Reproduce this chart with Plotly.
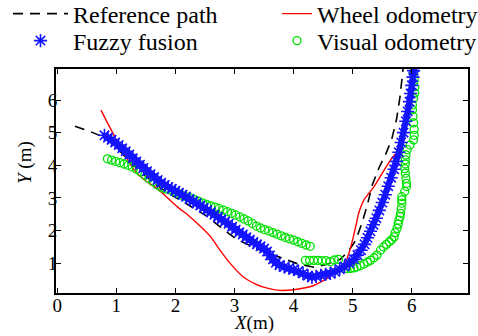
import plotly.graph_objects as go

# ---- data ----
ref_x = [0.30, 0.55, 0.85, 1.10, 1.35, 1.64, 1.90, 2.10, 2.35, 2.55, 2.78, 3.04, 3.44, 3.77, 4.06, 4.34,
         4.57, 4.79, 4.93, 5.05, 5.15, 5.25, 5.33, 5.45, 5.56, 5.66, 5.74, 5.80, 5.86]
ref_y = [5.20, 5.04, 4.82, 4.35, 3.90, 3.45, 3.12, 2.92, 2.65, 2.42, 2.08, 1.73, 1.40, 1.19, 0.99, 0.88,
         0.97, 1.12, 1.38, 1.70, 2.20, 2.80, 3.40, 3.95, 4.35, 4.80, 5.40, 6.10, 7.10]

wheel_x = [0.74, 0.99, 1.15, 1.31, 1.50, 1.70, 1.87, 2.04, 2.25, 2.44, 2.60, 2.72, 2.93, 3.15, 3.35, 3.49,
           3.77, 4.00, 4.34, 4.62, 4.75, 4.88, 4.96, 5.01, 5.06, 5.10, 5.19, 5.36, 5.50, 5.64, 5.72]
wheel_y = [5.69, 4.82, 4.30, 3.84, 3.52, 3.28, 3.00, 2.72, 2.42, 2.10, 1.80, 1.49, 0.99, 0.58, 0.37, 0.27,
           0.17, 0.19, 0.32, 0.60, 0.80, 1.05, 1.45, 1.81, 2.20, 2.53, 2.94, 3.35, 3.76, 4.17, 4.35]

fuzzy_x = [0.80, 0.86, 0.92, 0.98, 1.04, 1.10, 1.16, 1.22, 1.28, 1.34, 1.40, 1.46, 1.52, 1.58, 1.64, 1.70,
           1.76, 1.82, 1.88, 1.94, 2.00, 2.06, 2.12, 2.18, 2.24, 2.30, 2.36, 2.42, 2.48, 2.54, 2.60, 2.66,
           2.72, 2.78, 2.84, 2.90, 2.96, 3.02, 3.08, 3.14, 3.20, 3.26, 3.32, 3.38, 3.44, 3.50, 3.55, 3.60,
           3.65, 3.70, 3.76, 3.84, 3.92, 4.00, 4.08, 4.16, 4.24, 4.31, 4.38, 4.46, 4.54, 4.62, 4.70, 4.78,
           4.86, 4.94, 5.02, 5.08, 5.14, 5.20, 5.25, 5.30, 5.35, 5.40, 5.45, 5.50, 5.55, 5.60, 5.65, 5.70,
           5.74, 5.78, 5.82, 5.86, 5.90, 5.93, 5.96, 5.98, 6.00, 6.02, 6.03, 6.04]
fuzzy_y = [4.92, 4.85, 4.78, 4.70, 4.62, 4.52, 4.43, 4.33, 4.22, 4.12, 4.02, 3.92, 3.82, 3.73, 3.64, 3.55,
           3.47, 3.40, 3.34, 3.28, 3.22, 3.16, 3.10, 3.04, 2.97, 2.90, 2.84, 2.77, 2.70, 2.63, 2.56, 2.49,
           2.42, 2.35, 2.28, 2.21, 2.12, 2.03, 1.95, 1.88, 1.80, 1.72, 1.65, 1.58, 1.52, 1.45, 1.36, 1.24,
           1.12, 1.02, 0.94, 0.89, 0.85, 0.81, 0.76, 0.69, 0.62, 0.57, 0.60, 0.63, 0.66, 0.69, 0.74, 0.82,
           0.90, 1.00, 1.12, 1.25, 1.40, 1.58, 1.78, 1.98, 2.18, 2.38, 2.62, 2.86, 3.10, 3.36, 3.62, 3.88,
           4.12, 4.40, 4.70, 5.00, 5.35, 5.65, 5.95, 6.20, 6.45, 6.70, 6.90, 7.00]

visual_x = [0.85, 0.92, 0.99, 1.06, 1.13, 1.20, 1.27, 1.34, 1.41, 1.48, 1.55, 1.62, 1.69, 1.76, 1.83, 1.90,
            1.97, 2.04, 2.11, 2.18, 2.25, 2.32, 2.39, 2.46, 2.53, 2.60, 2.67, 2.74, 2.81, 2.88, 2.95, 3.02,
            3.09, 3.16, 3.23, 3.30, 3.37, 3.44, 3.51, 3.58, 3.65, 3.72, 3.79, 3.86, 3.93, 4.00, 4.07, 4.14,
            4.21, 4.28,
            None,
            4.20, 4.27, 4.34, 4.41, 4.48, 4.55, 4.62, 4.69, 4.76,
            None,
            4.90, 4.96, 5.02, 5.07, 5.13, 5.19, 5.25, 5.30, 5.36, 5.41, 5.47, 5.52, 5.57, 5.62, 5.66, 5.70,
            5.72, 5.75, 5.77, 5.78, 5.80, 5.81, 5.82, 5.83, 5.83, 5.83, 5.88, 5.91, 5.91, 5.90, 5.89, 5.88,
            5.89, 5.89, 5.90, 5.92, 5.97, 6.03, 6.04, 6.04, 6.03, 6.02, 6.01, 6.01, 6.03, 6.05, 6.05, 6.04,
            6.03]
visual_y = [4.20, 4.16, 4.12, 4.08, 4.04, 4.00, 3.95, 3.88, 3.80, 3.70, 3.60, 3.50, 3.40, 3.32, 3.28, 3.25,
            3.20, 3.14, 3.08, 3.04, 3.00, 2.95, 2.90, 2.85, 2.80, 2.76, 2.72, 2.68, 2.63, 2.58, 2.53, 2.48,
            2.42, 2.36, 2.30, 2.22, 2.14, 2.08, 2.03, 1.99, 1.94, 1.89, 1.84, 1.79, 1.75, 1.71, 1.66, 1.61,
            1.56, 1.52,
            None,
            1.09, 1.09, 1.09, 1.09, 1.08, 1.08, 1.05, 1.10, 1.12,
            None,
            0.84, 0.84, 0.86, 0.89, 0.93, 0.98, 1.04, 1.09, 1.17, 1.25, 1.40, 1.50, 1.58, 1.66, 1.72, 1.81,
            1.94, 2.07, 2.20, 2.32, 2.43, 2.53, 2.68, 2.84, 2.94, 3.04, 3.20, 3.35, 3.45, 3.60, 3.76, 3.90,
            4.04, 4.17, 4.32, 4.48, 4.62, 4.78, 4.92, 5.10, 5.30, 5.50, 5.70, 5.85, 6.05, 6.22, 6.40, 6.60,
            6.84]

x_ticks = [0, 1, 2, 3, 4, 5, 6]
y_ticks = [1, 2, 3, 4, 5, 6]

FONT = "Liberation Serif, Times New Roman, serif"
GREEN = "rgb(0,225,0)"
BLUE = "rgb(20,20,255)"

fig = go.Figure()
fig.add_trace(go.Scatter(x=ref_x, y=ref_y, mode="lines", name="Reference path",
                         line=dict(color="black", width=1.6, dash="10px,7px"), legend="legend"))
fig.add_trace(go.Scatter(x=wheel_x, y=wheel_y, mode="lines", name="Wheel odometry",
                         line=dict(color="red", width=1.4, shape="spline", smoothing=0.6), legend="legend2"))
fig.add_trace(go.Scatter(x=visual_x, y=visual_y, mode="markers", name="Visual odometry",
                         marker=dict(symbol="circle-open", size=8, color=GREEN, line=dict(width=1.3)),
                         legend="legend4"))
# the dense band of fuzzy-fusion asterisks (drawn once as a thick stroke, then the asterisks)
fig.add_trace(go.Scatter(x=fuzzy_x, y=fuzzy_y, mode="lines", showlegend=False, hoverinfo="skip",
                         line=dict(color=BLUE, width=6)))
fig.add_trace(go.Scatter(x=fuzzy_x, y=fuzzy_y, mode="markers", name="Fuzzy fusion",
                         marker=dict(symbol="asterisk-open", size=11, color=BLUE, line=dict(width=1.6, color=BLUE)),
                         legend="legend3"))

leg = dict(font=dict(family=FONT, size=24, color="black"), bgcolor="rgba(0,0,0,0)",
           xref="paper", yref="paper", xanchor="left", yanchor="middle")

# convert window pixels to paper fractions of the plot area
L, R, T, B = 56, 10, 69, 43
PW, PH = 478 - L - R, 336 - T - B
def px(xp):
    return (xp - L) / PW
def py(yp):
    return (336 - B - yp) / PH

axis_common = dict(showgrid=False, zeroline=False, showline=True, linecolor="black", linewidth=2,
                   mirror="ticks", ticks="inside", ticklen=5, tickwidth=1.2, tickcolor="black",
                   tickfont=dict(family=FONT, size=19, color="black"))

fig.update_layout(
    width=478, height=336,
    showlegend=True,
    margin=dict(l=L, r=R, t=T, b=B, autoexpand=False),
    paper_bgcolor="white", plot_bgcolor="white",
    font=dict(family=FONT, color="black"),
    legend=dict(leg, x=px(8), y=py(14), itemwidth=55),
    legend2=dict(leg, x=px(277), y=py(14)),
    legend3=dict(leg, x=px(8), y=py(41), itemwidth=55),
    legend4=dict(leg, x=px(277), y=py(41)),
    xaxis=dict(axis_common, range=[-0.02, 6.95], tickvals=x_ticks, ticklabelstandoff=-6),
    yaxis=dict(axis_common, range=[0.09, 6.95], tickvals=y_ticks, ticklabelstandoff=-7),
    annotations=[
        dict(text="<i>X</i>(m)", xref="paper", yref="paper", x=px(254), y=py(323), showarrow=False,
             font=dict(family=FONT, size=19, color="black"), xanchor="center", yanchor="middle"),
        dict(text="<i>Y</i> (m)", xref="paper", yref="paper", x=px(25), y=py(163), showarrow=False,
             textangle=-90, font=dict(family=FONT, size=19, color="black"), xanchor="center", yanchor="middle"),
    ],
)

fig.write_html("out.html", config={"displayModeBar": False},
               post_script="document.body.style.margin='0';document.body.style.overflow='hidden';")
